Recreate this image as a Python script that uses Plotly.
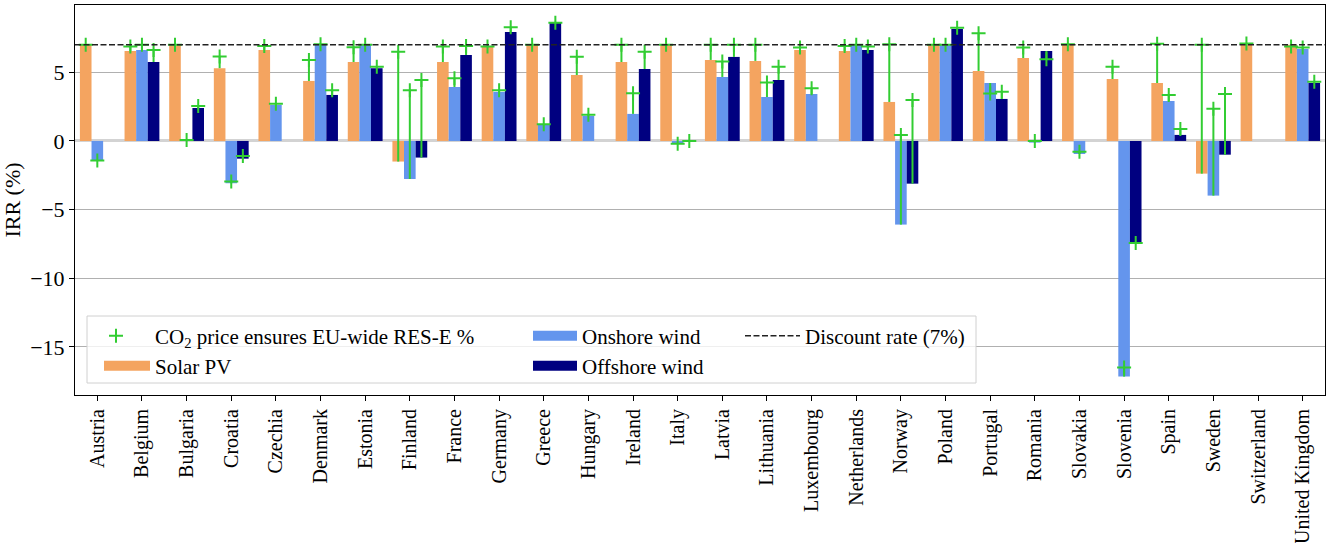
import plotly.graph_objects as go

countries = ["Austria", "Belgium", "Bulgaria", "Croatia", "Czechia", "Denmark", "Estonia",
             "Finland", "France", "Germany", "Greece", "Hungary", "Ireland", "Italy", "Latvia",
             "Lithuania", "Luxembourg", "Netherlands", "Norway", "Poland", "Portugal", "Romania",
             "Slovakia", "Slovenia", "Spain", "Sweden", "Switzerland", "United Kingdom"]

solar = [7.0, 6.55, 7.0, 5.3, 6.63, 4.37, 5.75, -1.5, 5.75, 6.84, 7.0, 4.8, 5.75, 7.0,
         5.9, 5.83, 6.63, 6.55, 2.84, 7.0, 5.1, 6.04, 7.0, 4.51, 4.22, -2.38, 7.0, 7.0]
solar_co2 = [7.0, 6.87, 7.0, 6.15, 6.92, 5.9, 6.82, 6.5, 6.87, 6.87, 7.0, 6.14, 7.0, 7.0,
             7.0, 7.0, 6.8, 6.92, 7.05, 7.0, 7.84, 6.8, 7.04, 5.41, 7.07, 7.0, 7.1, 6.87]

onshore = [-1.43, 6.63, 0.03, -3.08, 2.62, 7.0, 7.0, -2.77, 3.93, 3.57, 1.21, 1.82, 1.97, -0.17,
           4.66, 3.2, 3.42, 7.0, -6.09, 7.0, 4.22, -0.12, -0.95, -17.16, 2.91, -3.98, None, 6.7]
onshore_co2 = [-1.43, 7.0, 0.07, -2.96, 2.7, 7.04, 7.0, 3.7, 4.56, 3.7, 1.21, 1.9, 3.47, -0.2,
               5.78, 4.25, 3.83, 7.0, 0.44, 7.0, 3.45, 0.0, -0.78, -16.5, 3.35, 2.35, None, 6.8]

offshore = [None, 5.75, 2.4, -1.29, None, 3.35, 5.3, -1.21, 6.26, 7.94, 8.67, None, 5.24, 0.0,
            6.12, 4.44, None, 6.63, -3.11, 8.16, 3.06, 6.55, None, -7.45, 0.44, -1.0, None, 4.22]
offshore_co2 = [None, 6.63, 2.55, -1.1, None, 3.7, 5.4, 4.44, 6.92, 8.28, 8.6, None, 6.5, 0.0,
                7.0, 5.41, None, 6.87, 2.98, 8.25, 3.59, 5.95, None, -7.43, 0.87, 3.42, None, 4.32]

discount_rate = 7.0
ytick_vals = [-15, -10, -5, 0, 5]
ytick_text = ["\u221215", "\u221210", "\u22125", "0", "5"]

FONT = "Liberation Serif"
W = 0.26
GREEN = "#32cd32"
idx = list(range(len(countries)))

series = [
    ("Solar PV", solar, solar_co2, "sandybrown", -W),
    ("Onshore wind", onshore, onshore_co2, "cornflowerblue", 0.0),
    ("Offshore wind", offshore, offshore_co2, "navy", W),
]

fig = go.Figure()

for name, vals, _, color, off in series:
    fig.add_trace(go.Bar(x=idx, y=vals, width=W, offset=off - W / 2,
                         marker=dict(color=color, line=dict(width=0)),
                         name=name, showlegend=False))

# connecting lines and CO2 markers
lx, ly, mx, my = [], [], [], []
for name, vals, co2, color, off in series:
    for i, (v, c) in enumerate(zip(vals, co2)):
        if v is None or c is None:
            continue
        lx += [i + off, i + off, None]
        ly += [v, c, None]
        mx.append(i + off)
        my.append(c)

fig.add_trace(go.Scatter(x=lx, y=ly, mode="lines", line=dict(color=GREEN, width=2),
                         showlegend=False, hoverinfo="skip"))
fig.add_trace(go.Scatter(x=mx, y=my, mode="markers",
                         marker=dict(symbol="cross-thin", size=10, color=GREEN,
                                     line=dict(color=GREEN, width=2)),
                         name="CO<sub>2</sub> price ensures EU-wide RES-E %", legend="legend"))

fig.add_trace(go.Scatter(x=[-0.5, len(countries) - 0.5], y=[discount_rate, discount_rate],
                         mode="lines", line=dict(color="#222222", width=1.5, dash="6px,2.5px"),
                         name="Discount rate (7%)", legend="legend5", hoverinfo="skip"))

# legend proxies for bar series
for (name, _, _, color, _), lg in zip(series, ["legend2", "legend3", "legend4"]):
    fig.add_trace(go.Scatter(x=[None], y=[None], mode="lines",
                             line=dict(color=color, width=16), name=name, legend=lg))

def px2x(p):
    return (p - 75) / 1250.0

def py2y(p):
    return (395 - p) / 390.0

def leg(xp, yp, iw):
    return dict(x=px2x(xp), y=py2y(yp), xanchor="left", yanchor="middle",
                bgcolor="rgba(0,0,0,0)", borderwidth=0, itemwidth=iw,
                font=dict(family=FONT, size=21, color="black"))

fig.update_layout(
    width=1330, height=543,
    margin=dict(l=75, r=5, t=5, b=148),
    plot_bgcolor="white", paper_bgcolor="white",
    barmode="overlay",
    font=dict(family=FONT, size=21, color="black"),
    legend=leg(77, 336, 68),
    legend2=leg(99, 366, 46),
    legend3=leg(528, 336, 44),
    legend4=leg(528, 366, 44),
    legend5=leg(740, 336, 55),
    xaxis=dict(range=[-0.5, len(countries) - 0.5], tickmode="array", tickvals=idx,
               ticktext=countries, tickangle=-90, ticks="outside", ticklen=5, tickwidth=1,
               tickcolor="black", showline=True, linecolor="black", linewidth=1, mirror=True,
               showgrid=False, zeroline=False, automargin=False,
               tickfont=dict(family=FONT, size=20)),
    yaxis=dict(range=[-18.5, 9.9], tickmode="array", tickvals=ytick_vals, ticktext=ytick_text,
               ticks="outside", ticklen=5, tickwidth=1, tickcolor="black",
               showline=True, linecolor="black", linewidth=1, mirror=True,
               showgrid=True, gridcolor="#b0b0b0", gridwidth=1,
               zeroline=True, zerolinecolor="lightgray", zerolinewidth=2.5,
               automargin=False,
               title=dict(text="IRR (%)", font=dict(family=FONT, size=22), standoff=6),
               tickfont=dict(family=FONT, size=22)),
    shapes=[dict(type="rect", xref="paper", yref="paper",
                 x0=px2x(87), x1=px2x(976), y0=py2y(383), y1=py2y(316),
                 line=dict(color="#d0d0d0", width=1), fillcolor="rgba(255,255,255,0.8)",
                 layer="above")],
)

fig.write_html("out.html", config={"displayModeBar": False},
               post_script="document.body.style.margin='0';")
